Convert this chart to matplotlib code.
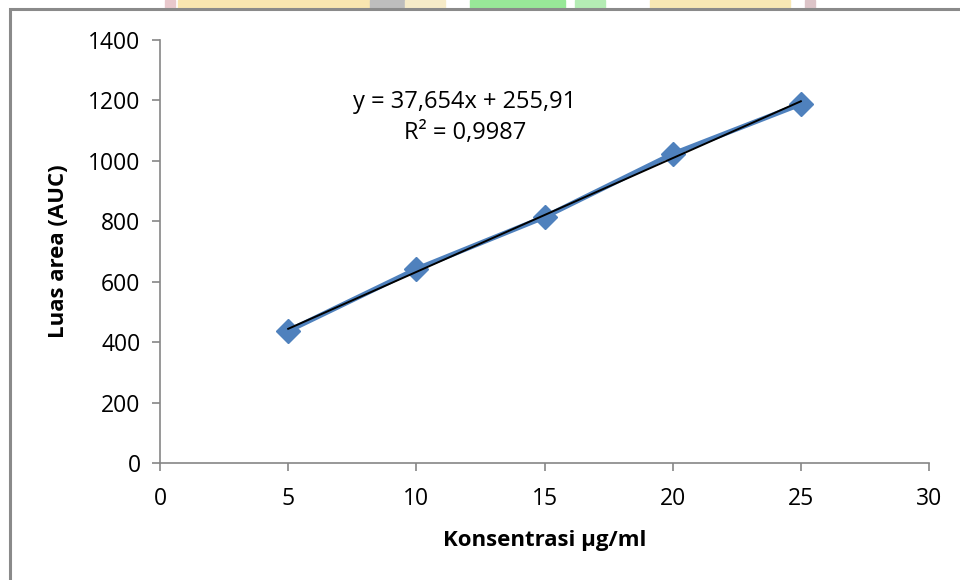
import numpy as np
import matplotlib.pyplot as plt
from matplotlib.patches import Rectangle

# AUC calibration data
konsentrasi = [5, 10, 15, 20, 25]
luas_area = [437, 642, 814, 1023, 1188]

# linear fit as reported on the chart
slope = 37.654
intercept = 255.91
r2 = 0.9987

x_ticks = [0, 5, 10, 15, 20, 25, 30]
y_ticks = [0, 200, 400, 600, 800, 1000, 1200, 1400]

plt.rcParams['font.family'] = ['Open Sans', 'DejaVu Sans']

fig = plt.figure(figsize=(9.6, 5.8), dpi=100)
ax = fig.add_axes([0.1667, 0.2017, 0.801, 0.7293])

# faint logo strip peeking above the chart frame
strip = [(165, 10, '#e8c8cc'), (178, 250, '#f9e6b0'), (370, 35, '#bdbdbd'),
         (405, 40, '#f6ebc8'), (470, 95, '#98e898'), (575, 30, '#b4ecb4'),
         (650, 140, '#f8e8b4'), (805, 10, '#dcc4c8')]
for x0, w, c in strip:
    fig.patches.append(Rectangle((x0 / 960, 1 - 8 / 580), w / 960, 8 / 580,
                                 transform=fig.transFigure, color=c, zorder=0))

# chart frame
fig.patches.append(Rectangle((10 / 960, -0.05), 1.0, 1 - 9 / 580 + 0.05,
                             transform=fig.transFigure, fill=False,
                             edgecolor='#8a8a8a', linewidth=2.2, zorder=1))

ax.plot(konsentrasi, luas_area, color='#4f81bd', linewidth=3.6,
        marker='D', markersize=12.5, markerfacecolor='#4f81bd',
        markeredgecolor='#4f81bd', zorder=2)

xs = np.array([konsentrasi[0], konsentrasi[-1]])
ax.plot(xs, slope * xs + intercept, color='black', linewidth=1.4, zorder=3)

ax.text(11.9, 1195, 'y = 37,654x + 255,91', ha='center', va='center', fontsize=17)
ax.text(11.9, 1093, 'R² = 0,9987', ha='center', va='center', fontsize=17)

ax.set_xlim(0, 30)
ax.set_ylim(0, 1400)
ax.set_xticks(x_ticks)
ax.set_yticks(y_ticks)
ax.tick_params(axis='both', labelsize=16.5, colors='#868686', labelcolor='black',
               length=6, width=1.2, direction='out')
ax.tick_params(axis='x', pad=11)
ax.tick_params(axis='y', pad=8)

for side in ['top', 'right']:
    ax.spines[side].set_visible(False)
for side in ['left', 'bottom']:
    ax.spines[side].set_color('#868686')
    ax.spines[side].set_linewidth(1.2)

ax.set_xlabel('Konsentrasi µg/ml', fontsize=16, fontweight='bold', labelpad=14)
ax.set_ylabel('Luas area (AUC)', fontsize=16, fontweight='bold', labelpad=14)

fig.savefig('out.png', dpi=100)
